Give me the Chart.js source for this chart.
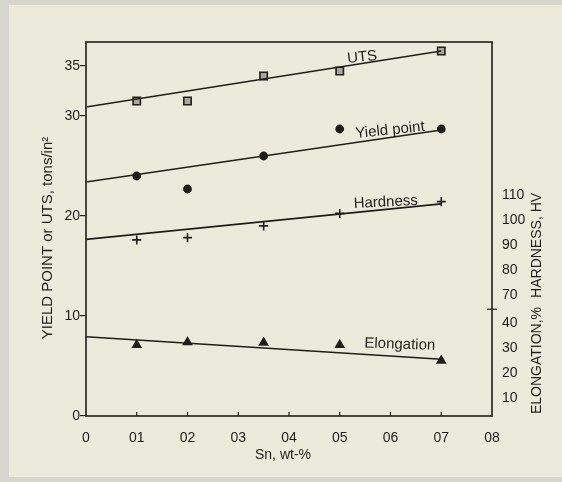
<!DOCTYPE html>
<html>
<head>
<meta charset="utf-8">
<script src="https://cdn.jsdelivr.net/npm/chart.js@4.4.0/dist/chart.umd.min.js"></script>
<style>
  html, body { margin: 0; padding: 0; background: #d6d6ce; }
  #wrap { width: 562px; height: 482px; position: relative; }
</style>
</head>
<body>
<div id="wrap"><canvas id="c" width="562" height="482"></canvas></div>
<script>
// Tin content of the alloys, wt-%
const snContent = [0.1, 0.2, 0.35, 0.5, 0.7];

// Measured properties
const utsValues = [31.5, 31.5, 34.0, 34.5, 36.5];          // tons/in²
const yieldValues = [24.0, 22.7, 26.0, 28.7, 28.7];        // tons/in²
const hardnessValues = [92.2, 93.1, 97.8, 102.8, 107.5];   // HV
const elongationValues = [31.2, 32.3, 32.1, 31.2, 24.9];   // %

// Straight-line fits, value at each end of the Sn range
const fitRange = [0, 0.7];
const utsFit = [30.9, 36.5];
const yieldFit = [23.4, 28.6];
const hardnessFit = [92.4, 106.6];
const elongationFit = [34.5, 25.5];

// Axis ticks
const xTickValues = [0, 0.1, 0.2, 0.3, 0.4, 0.5, 0.6, 0.7, 0.8];
const xTickLabels = ['0', '01', '02', '03', '04', '05', '06', '07', '08'];
const leftTickValues = [0, 10, 20, 30, 35];
const elongationTicks = [10, 20, 30, 40];
const hardnessTicks = [70, 80, 90, 100, 110];

// Right-hand scales: elongation and hardness share one axis, broken between 40 % and 70 HV.
// Both run at 4 units per tons/in² of the left scale.
const leftMax = 37.4;
const elongMin = 2.8;
const hardMin = 21.76;
const rightSpan = leftMax * 4;
const hvShift = hardMin - elongMin;

const rightTickValues = elongationTicks.concat(hardnessTicks.map(v => v - hvShift));
const rightTickLabels = elongationTicks.map(String).concat(hardnessTicks.map(String));

const ink = '#1f1e1a';
const paper = '#ecebdb';
const font = '"Liberation Sans", "DejaVu Sans", sans-serif';

const pts = vals => snContent.map((x, i) => ({ x, y: vals[i] }));
const fit = vals => fitRange.map((x, i) => ({ x, y: vals[i] }));

function markerSet(label, vals, axis, style, radius, fill) {
  return {
    label, data: pts(vals), yAxisID: axis, showLine: false,
    pointStyle: style, pointRadius: radius, pointHoverRadius: radius,
    pointBackgroundColor: fill, pointBorderColor: ink, pointBorderWidth: 1.6
  };
}
function fitSet(label, vals, axis) {
  return {
    label, data: fit(vals), yAxisID: axis, showLine: true,
    borderColor: ink, borderWidth: 1.6, pointRadius: 0, fill: false
  };
}

const seriesLabels = [
  { text: 'UTS', at: 0.545, fit: utsFit, axis: 'y', lift: 2, tilt: -6 },
  { text: 'Yield point', at: 0.6, fit: yieldFit, axis: 'y', lift: 3, tilt: -6 },
  { text: 'Hardness', at: 0.591, fit: hardnessFit, axis: 'yH', lift: 3, tilt: -3 },
  { text: 'Elongation', at: 0.618, fit: elongationFit, axis: 'yE', lift: 8, tilt: 2 }
];

const decor = {
  id: 'decor',
  beforeDraw(chart) {
    const ctx = chart.ctx;
    ctx.save();
    ctx.fillStyle = '#d6d6ce';
    ctx.fillRect(0, 0, chart.width, chart.height);
    ctx.fillStyle = paper;
    ctx.fillRect(9, 5, chart.width - 9, 472);
    ctx.restore();
  },
  beforeDatasetsDraw(chart) {
    const { ctx, chartArea: a, scales } = chart;
    ctx.save();
    ctx.strokeStyle = ink;
    ctx.lineWidth = 1.6;
    ctx.strokeRect(a.left, a.top, a.right - a.left, a.bottom - a.top);
    // inward ticks along the Sn axis
    ctx.lineWidth = 1.2;
    xTickValues.slice(1, -1).forEach(v => {
      const px = scales.x.getPixelForValue(v);
      ctx.beginPath(); ctx.moveTo(px, a.bottom); ctx.lineTo(px, a.bottom - 4); ctx.stroke();
    });
    // break mark on the right axis between the two scales
    const breakVal = (elongationTicks[elongationTicks.length - 1] + hardnessTicks[0] - hvShift) / 2;
    const by = scales.yE.getPixelForValue(breakVal);
    ctx.beginPath(); ctx.moveTo(a.right - 5, by); ctx.lineTo(a.right + 5, by); ctx.stroke();
    ctx.restore();
  },
  afterDraw(chart) {
    const { ctx, scales } = chart;
    ctx.save();
    ctx.fillStyle = ink;
    ctx.font = '15px ' + font;
    ctx.textAlign = 'center';
    ctx.textBaseline = 'alphabetic';
    seriesLabels.forEach(l => {
      const t = (l.at - fitRange[0]) / (fitRange[1] - fitRange[0]);
      const v = l.fit[0] + (l.fit[1] - l.fit[0]) * t;
      const px = scales.x.getPixelForValue(l.at);
      const py = scales[l.axis].getPixelForValue(v);
      ctx.save();
      ctx.translate(px, py - l.lift);
      ctx.rotate(l.tilt * Math.PI / 180);
      ctx.fillText(l.text, 0, 0);
      ctx.restore();
    });

    // axis titles
    ctx.textBaseline = 'middle';
    ctx.font = '14px ' + font;
    ctx.fillText('Sn, wt-%', 283, 455);

    ctx.font = '15px ' + font;
    ctx.save();
    ctx.translate(48, 238);
    ctx.rotate(-Math.PI / 2);
    ctx.fillText('YIELD POINT or UTS, tons/in\u00B2', 0, 0);
    ctx.restore();

    ctx.font = '14px ' + font;
    const eMid = scales.yE.getPixelForValue((elongationTicks[0] + elongationTicks[elongationTicks.length - 1]) / 2);
    const hMid = scales.yE.getPixelForValue((hardnessTicks[0] + hardnessTicks[hardnessTicks.length - 1]) / 2 - hvShift);
    [['ELONGATION,%', eMid], ['HARDNESS, HV', hMid]].forEach(([s, y]) => {
      ctx.save();
      ctx.translate(537, y);
      ctx.rotate(-Math.PI / 2);
      ctx.fillText(s, 0, 0);
      ctx.restore();
    });
    ctx.restore();
  }
};

new Chart(document.getElementById('c'), {
  type: 'scatter',
  data: {
    datasets: [
      fitSet('UTS fit', utsFit, 'y'),
      fitSet('Yield point fit', yieldFit, 'y'),
      fitSet('Hardness fit', hardnessFit, 'yH'),
      fitSet('Elongation fit', elongationFit, 'yE'),
      markerSet('UTS', utsValues, 'y', 'rect', 5.2, '#a9a89b'),
      markerSet('Yield point', yieldValues, 'y', 'circle', 3.6, ink),
      markerSet('Hardness', hardnessValues, 'yH', 'cross', 4.5, ink),
      markerSet('Elongation', elongationValues, 'yE', 'triangle', 4.6, ink)
    ]
  },
  options: {
    responsive: false,
    animation: false,
    layout: { padding: { top: 42, left: 0, right: 0, bottom: 0 } },
    plugins: { legend: { display: false }, tooltip: { enabled: false } },
    scales: {
      x: {
        type: 'linear', min: 0, max: 0.8,
        afterBuildTicks: s => { s.ticks = xTickValues.map(value => ({ value })); },
        afterFit: s => { s.height = 66; },
        grid: { display: false },
        border: { display: false },
        ticks: {
          autoSkip: false, maxRotation: 0, padding: 6, color: ink,
          font: { family: font, size: 14 },
          callback: (v, i) => xTickLabels[i]
        }
      },
      y: {
        position: 'left', min: 0, max: leftMax,
        afterBuildTicks: s => { s.ticks = leftTickValues.map(value => ({ value })); },
        afterFit: s => { s.width = 86; },
        grid: { drawOnChartArea: false, drawTicks: true, tickLength: 6, color: ink, lineWidth: 1.2 },
        border: { display: false },
        ticks: { autoSkip: false, padding: 0, color: ink, font: { family: font, size: 14 } }
      },
      yE: {
        position: 'right', min: elongMin, max: elongMin + rightSpan,
        afterBuildTicks: s => { s.ticks = rightTickValues.map(value => ({ value })); },
        afterFit: s => { s.width = 70; },
        grid: { display: false },
        border: { display: false },
        ticks: {
          autoSkip: false, padding: 2, color: ink, font: { family: font, size: 14 },
          callback: (v, i) => rightTickLabels[i]
        }
      },
      yH: {
        display: false, min: hardMin, max: hardMin + rightSpan
      }
    }
  },
  plugins: [decor]
});
</script>
</body>
</html>
